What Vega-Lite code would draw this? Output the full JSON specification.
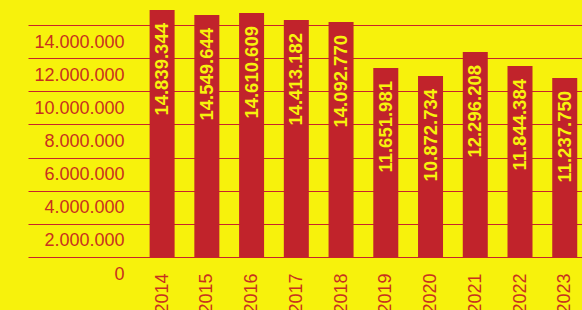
{
  "$schema": "https://vega.github.io/schema/vega-lite/v6.json",
  "width": 554,
  "height": 257,
  "autosize": {"type": "none"},
  "padding": {"left": 28, "right": 0, "top": 0, "bottom": 53},
  "background": "#f7f20c",
  "config": {
    "view": {"stroke": null},
    "locale": {"number": {"decimal": ",", "thousands": ".", "grouping": [3], "currency": ["", " €"]}}
  },
  "data": {
    "values": [
      {"year": 2014, "value": 14839344, "bar": 14905000},
      {"year": 2015, "value": 14549644, "bar": 14604000},
      {"year": 2016, "value": 14610609, "bar": 14724000},
      {"year": 2017, "value": 14413182, "bar": 14302000},
      {"year": 2018, "value": 14092770, "bar": 14181000},
      {"year": 2019, "value": 11651981, "bar": 11405000},
      {"year": 2020, "value": 10872734, "bar": 10923000},
      {"year": 2021, "value": 12296208, "bar": 12371000},
      {"year": 2022, "value": 11844384, "bar": 11526000},
      {"year": 2023, "value": 11237750, "bar": 10802000}
    ]
  },
  "encoding": {
    "x": {
      "field": "year",
      "type": "quantitative",
      "scale": {"domain": [2011.114, 2023.274], "nice": false, "zero": false},
      "axis": {
        "title": null,
        "values": [2014, 2015, 2016, 2017, 2018, 2019, 2020, 2021, 2022, 2023],
        "format": "d",
        "labelAngle": -90,
        "labelAlign": "right",
        "labelBaseline": "middle",
        "ticks": false,
        "domain": false,
        "grid": false,
        "labelPadding": 16,
        "labelFont": "Liberation Sans",
        "labelFontSize": 18,
        "labelColor": "#c8301f",
        "labelOverlap": false,
        "labelFlush": false
      }
    },
    "y": {
      "field": "bar",
      "type": "quantitative",
      "scale": {"domain": [0, 15509000], "nice": false},
      "axis": {
        "title": null,
        "values": [0, 2000000, 4000000, 6000000, 8000000, 10000000, 12000000, 14000000],
        "format": ",d",
        "ticks": false,
        "domain": false,
        "grid": true,
        "gridColor": "#c8232b",
        "gridWidth": 1,
        "gridOpacity": 1,
        "labelPadding": -96,
        "labelOffset": 17,
        "labelFont": "Liberation Sans",
        "labelFontSize": 18,
        "labelColor": "#c8301f",
        "labelOverlap": false,
        "labelFlush": false
      }
    }
  },
  "layer": [
    {"mark": {"type": "bar", "size": 25, "color": "#c1232b"}},
    {
      "mark": {
        "type": "text",
        "angle": 270,
        "align": "right",
        "baseline": "middle",
        "dx": -13,
        "font": "Liberation Sans",
        "fontWeight": "bold",
        "fontSize": 18.5,
        "color": "#f7f20c"
      },
      "encoding": {"text": {"field": "value", "type": "quantitative", "format": ",d"}}
    }
  ]
}
